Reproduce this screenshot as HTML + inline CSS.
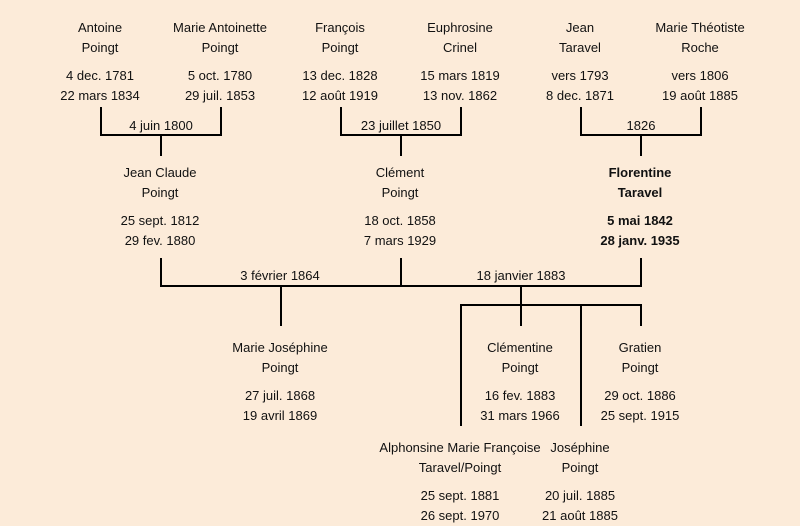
<!DOCTYPE html>
<html><head><meta charset="utf-8"><style>
html,body{margin:0;padding:0;}
body{width:800px;height:521px;background:#fcebd9;position:relative;overflow:hidden;font-family:"Comic Sans MS","Liberation Sans",sans-serif;font-size:13px;color:#111;}
.t{position:absolute;width:200px;margin-left:-100px;text-align:center;line-height:20px;white-space:nowrap;margin-top:1px;}
.b{font-weight:bold;}
svg{position:absolute;left:0;top:0;}
</style></head><body>
<svg width="800" height="521"><g stroke="#000" stroke-width="2" fill="none">
<path d="M101 107V135H221V107M161 135V156"/>
<path d="M341 107V135H461V107M401 135V156"/>
<path d="M581 107V135H701V107M641 135V156"/>
<path d="M161 258V286H641V258M401 258V286M281 286V326"/>
<path d="M521 286V305M461 426V305H641V326M521 305V326M581 305V426"/>
</g></svg>
<div class="t" style="left:100px;top:17px">Antoine<br>Poingt</div>
<div class="t" style="left:100px;top:65px">4 dec. 1781<br>22 mars 1834</div>
<div class="t" style="left:220px;top:17px">Marie Antoinette<br>Poingt</div>
<div class="t" style="left:220px;top:65px">5 oct. 1780<br>29 juil. 1853</div>
<div class="t" style="left:340px;top:17px">François<br>Poingt</div>
<div class="t" style="left:340px;top:65px">13 dec. 1828<br>12 août 1919</div>
<div class="t" style="left:460px;top:17px">Euphrosine<br>Crinel</div>
<div class="t" style="left:460px;top:65px">15 mars 1819<br>13 nov. 1862</div>
<div class="t" style="left:580px;top:17px">Jean<br>Taravel</div>
<div class="t" style="left:580px;top:65px">vers 1793<br>8 dec. 1871</div>
<div class="t" style="left:700px;top:17px">Marie Théotiste<br>Roche</div>
<div class="t" style="left:700px;top:65px">vers 1806<br>19 août 1885</div>
<div class="t" style="left:161px;top:115px">4 juin 1800</div>
<div class="t" style="left:401px;top:115px">23 juillet 1850</div>
<div class="t" style="left:641px;top:115px">1826</div>
<div class="t" style="left:160px;top:162px">Jean Claude<br>Poingt</div>
<div class="t" style="left:160px;top:210px">25 sept. 1812<br>29 fev. 1880</div>
<div class="t" style="left:400px;top:162px">Clément<br>Poingt</div>
<div class="t" style="left:400px;top:210px">18 oct. 1858<br>7 mars 1929</div>
<div class="t b" style="left:640px;top:162px">Florentine<br>Taravel</div>
<div class="t b" style="left:640px;top:210px">5 mai 1842<br>28 janv. 1935</div>
<div class="t" style="left:280px;top:265px">3 février 1864</div>
<div class="t" style="left:521px;top:265px">18 janvier 1883</div>
<div class="t" style="left:280px;top:337px">Marie Joséphine<br>Poingt</div>
<div class="t" style="left:280px;top:385px">27 juil. 1868<br>19 avril 1869</div>
<div class="t" style="left:520px;top:337px">Clémentine<br>Poingt</div>
<div class="t" style="left:520px;top:385px">16 fev. 1883<br>31 mars 1966</div>
<div class="t" style="left:640px;top:337px">Gratien<br>Poingt</div>
<div class="t" style="left:640px;top:385px">29 oct. 1886<br>25 sept. 1915</div>
<div class="t" style="left:460px;top:437px">Alphonsine Marie Françoise<br>Taravel/Poingt</div>
<div class="t" style="left:460px;top:485px">25 sept. 1881<br>26 sept. 1970</div>
<div class="t" style="left:580px;top:437px">Joséphine<br>Poingt</div>
<div class="t" style="left:580px;top:485px">20 juil. 1885<br>21 août 1885</div>
</body></html>
